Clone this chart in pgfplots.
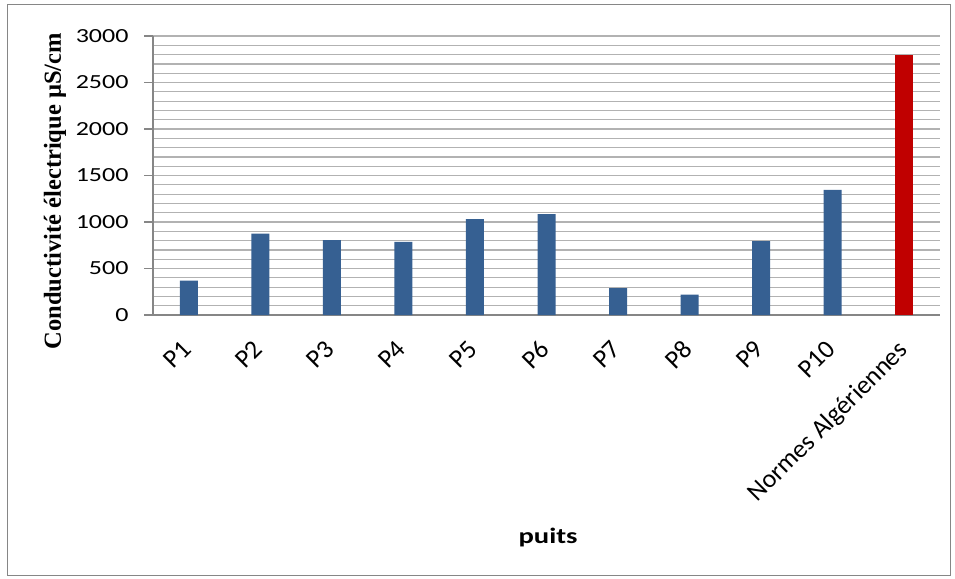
\documentclass[border=0pt]{standalone}
\usepackage{pgfplots}
\pgfplotsset{compat=1.18}
\usepackage{fontspec}
\setmainfont{Carlito}[FakeStretch=1.3]
\newfontfamily\plainf{Carlito}
\newfontfamily\timesf{Liberation Serif}
\definecolor{barblue}{RGB}{54,96,146}
\definecolor{barred}{RGB}{192,0,0}
\definecolor{axgray}{RGB}{134,134,134}
\definecolor{gridgray}{RGB}{178,178,178}
\begin{document}
\begin{tikzpicture}
\useasboundingbox (-153pt,-263pt) rectangle (802pt,315pt);
\draw[axgray, line width=1pt] (-145pt,-260pt) rectangle (797pt,310pt);
\begin{axis}[
  at={(0pt,0pt)}, anchor=south west,
  scale only axis, width=787pt, height=279pt,
  xmin=-0.5, xmax=10.5, ymin=0, ymax=3000,
  axis x line=bottom, axis y line=left,
  axis line style={-, axgray, line width=1.5pt},
  ytick={0,500,...,3000},
  minor y tick num=4,
  ymajorgrids, yminorgrids,
  major grid style={gridgray, line width=1.2pt},
  minor grid style={gridgray, line width=1.2pt},
  tick align=outside,
  major y tick style={axgray, line width=1.5pt},
  major tick length=9pt,
  minor tick length=0pt,
  xtick={0,...,10},
  xticklabels={P1,P2,P3,P4,P5,P6,P7,P8,P9,P10,Normes Algériennes},
  x tick style={draw=none},
  x tick label style={xshift=-8pt, yshift=-10pt, rotate=45, anchor=north east, font=\plainf\fontsize{26}{26}\selectfont},
  y tick label style={xshift=-12pt, font=\fontsize{20}{20}\selectfont},
  /pgf/number format/1000 sep={},
  /pgf/number format/assume math mode=true,
  ylabel={\timesf\bfseries Conductivité électrique µS/cm},
  ylabel style={at={(axis description cs:-0.1245,0.444)}, anchor=center, font=\fontsize{24.5}{24.5}\selectfont},
  xlabel={\bfseries puits},
  xlabel style={at={(axis description cs:0.502,-0.796)}, anchor=center, font=\fontsize{22}{22}\selectfont},
]
\addplot[ybar, bar width=18pt, bar shift=0pt, fill=barblue, draw=none]
  coordinates {(0,370) (1,875) (2,805) (3,785) (4,1032) (5,1085) (6,290) (7,220) (8,795) (9,1345)};
\addplot[ybar, bar width=18pt, bar shift=0pt, fill=barred, draw=none]
  coordinates {(10,2800)};
\end{axis}
\end{tikzpicture}
\end{document}
